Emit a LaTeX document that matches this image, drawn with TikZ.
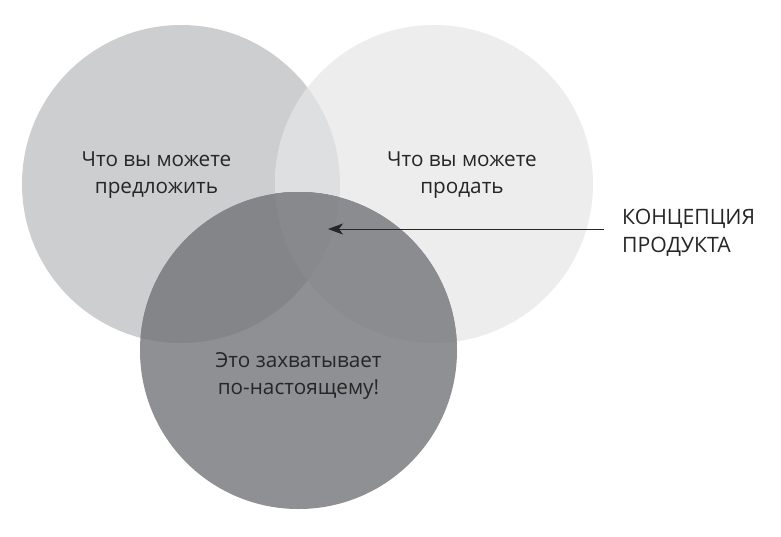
\documentclass[tikz,border=0pt]{standalone}
\usepackage{fontspec}
\setmainfont{Open Sans}
\usetikzlibrary{arrows.meta}
\definecolor{cL}{HTML}{CDCED0}
\definecolor{cR}{HTML}{EDEDED}
\definecolor{cLR}{HTML}{DEDFE1}
\definecolor{cB}{HTML}{8F9093}
\definecolor{cBL}{HTML}{848588}
\definecolor{cBR}{HTML}{8B8C8F}
\definecolor{cLRB}{HTML}{88898C}
\definecolor{ink}{HTML}{262626}
\tikzset{
  lbl/.style={text=ink, font=\fontsize{20.7}{27}\selectfont, align=center, inner sep=0pt},
  side/.style={text=ink, font=\fontsize{21.2}{28}\selectfont, align=left, inner sep=0pt, anchor=west},
  pointer/.style={draw=ink, line width=0.9pt, -{Stealth[length=15pt,width=11pt,inset=4pt]}}
}
\begin{document}
\begin{tikzpicture}[x=1pt,y=-1pt]
\useasboundingbox (0,0) rectangle (781,536);
\fill[white] (0,0) rectangle (781,536);
\def\Lc{(181,184)}
\def\Rc{(434,184)}
\def\Bc{(298.5,350.5)}
% base circles
\fill[cL] \Lc circle[radius=159pt];
\fill[cR] \Rc circle[radius=159pt];
\begin{scope}
  \clip \Lc circle[radius=159pt];
  \fill[cLR] \Rc circle[radius=159pt];
\end{scope}
\fill[cB] \Bc circle[radius=158.5pt];
\begin{scope}
  \clip \Bc circle[radius=158.5pt];
  \fill[cBL] \Lc circle[radius=159pt];
  \fill[cBR] \Rc circle[radius=159pt];
  \clip \Lc circle[radius=159pt];
  \fill[cLRB] \Rc circle[radius=159pt];
\end{scope}
% texts
\node[lbl] (offer) at (156.5,175.5) {Что вы можете\\предложить};
\node[lbl] (sell) at (462,175.5) {Что вы можете\\продать};
\node[lbl] (capt) at (298.5,376) {Это захватывает\\по-настоящему!};
\node[side] (concept) at (622,233) {КОНЦЕПЦИЯ\\ПРОДУКТА};
\coordinate (tail) at (604,229);
\coordinate (tip) at (328,229);
\draw[pointer] (tail) -- (tip);
\end{tikzpicture}
\end{document}
